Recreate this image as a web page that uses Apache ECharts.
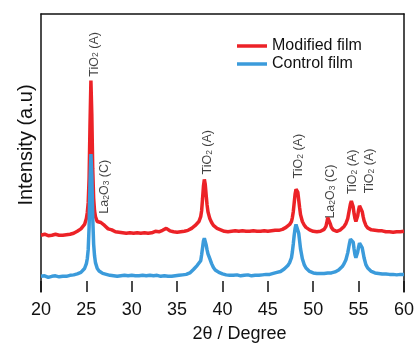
<!DOCTYPE html>
<html>
<head>
<meta charset="utf-8">
<script src="https://cdn.jsdelivr.net/npm/echarts@6/dist/echarts.min.js"></script>
<style>html,body{margin:0;padding:0;background:#fff}#c{width:417px;height:348px}</style>
</head>
<body>
<div id="c"></div>
<script>
const xTicks = [20, 25, 30, 35, 40, 45, 50, 55, 60];
const seriesNames = ['Modified film', 'Control film'];
const modifiedFilm = [[20.0,47],[20.2,46],[20.4,48],[20.6,47],[20.8,46.5],[21.0,48],[21.2,47],[21.4,46],[21.6,48],[21.8,47.5],[22.0,47],[22.2,48.5],[22.4,47],[22.6,48],[22.8,47.5],[23.0,49],[23.2,48],[23.4,49.5],[23.6,49],[23.8,50.5],[24.0,51],[24.2,52],[24.4,53.5],[24.6,55],[24.8,58],[25.0,64],[25.1,70],[25.2,80],[25.3,105],[25.4,160],[25.5,205],[25.6,170],[25.7,115],[25.8,85],[25.9,72],[26.0,66],[26.2,61],[26.4,59],[26.6,60],[26.8,60.5],[27.0,57],[27.2,55],[27.4,53.5],[27.6,52],[27.8,52.5],
[28.0,51],[28.2,50.5],[28.4,51.5],[28.6,50],[28.8,50.5],[29.0,49.5],[29.2,50.5],[29.4,49],[29.6,50],[29.8,49.5],[30.0,50],[30.2,49],[30.4,50.5],[30.6,49.5],[30.8,50],[31.0,49],[31.2,50.5],[31.4,49.5],[31.6,50],[31.8,49],[32.0,50.5],[32.2,49.5],[32.4,50],[32.6,51],[32.8,50],[33.0,50.5],[33.2,51],[33.4,52],[33.6,53.5],[33.8,54],[34.0,53],[34.2,51.5],[34.4,51],[34.6,50.5],[34.8,51],[35.0,50],[35.2,51],[35.4,50.5],[35.6,51.5],[35.8,51],[36.0,52],[36.2,52],[36.4,53],[36.6,54],[36.8,55.5],[37.0,57],[37.2,59],[37.4,61],[37.6,66],[37.7,72],[37.8,84],[37.9,97],[38.0,104],[38.1,99],[38.2,88],[38.3,78],[38.4,71],[38.6,64],[38.8,60],[39.0,57],[39.2,55.5],[39.4,54],[39.6,53],[39.8,52.5],[40.0,52],[40.2,51],[40.4,52],[40.6,50.5],[40.8,51.5],[41.0,51],[41.2,50],[41.4,51.5],[41.6,50.5],[41.8,51],[42.0,50],[42.2,51.5],[42.4,50.5],[42.6,51],[42.8,50],[43.0,51],[43.2,50.5],[43.4,51.5],[43.6,50],[43.8,51],[44.0,50.5],[44.2,51],[44.4,50],[44.6,51.5],[44.8,50.5],[45.0,51],[45.2,50.5],[45.4,51.5],[45.6,51],[45.8,52],[46.0,51.5],[46.2,52],[46.4,52.5],[46.6,53],[46.8,54],[47.0,55],[47.2,56.5],[47.4,58],[47.6,61],[47.7,65],[47.8,71],[47.9,80],[48.0,89],[48.1,94],[48.2,95],[48.3,91],[48.4,83],[48.5,75],[48.6,68],[48.8,61],[49.0,57.5],[49.2,55],[49.4,54],[49.6,52.5],[49.8,52],[50.0,51],[50.2,51.5],[50.4,50.5],[50.6,51.5],[50.8,51],[51.0,52],[51.2,53],[51.4,56],[51.5,60],[51.6,65],[51.7,67],[51.8,63],[51.9,58],[52.0,55],[52.2,52.5],[52.4,51.5],[52.6,51],[52.8,52],[53.0,52.5],[53.2,54],[53.4,56],[53.6,59],[53.8,64],[53.9,69],[54.0,74],[54.1,79],[54.2,82],[54.3,81],[54.4,76],[54.5,69],[54.6,64],[54.7,61],[54.8,62],[54.9,67],[55.0,73],[55.1,77],[55.2,78],[55.3,76],[55.4,71],[55.5,66],[55.6,62],[55.8,57],[56.0,54.5],[56.2,53],[56.4,52.5],[56.6,51.5],[56.8,52],[57.0,51],[57.2,51.5],[57.4,50.5],[57.6,51.5],[57.8,51],[58.0,50.5],[58.2,51.5],[58.4,50.5],[58.6,51],[58.8,50],[59.0,51.5],[59.2,50.5],[59.4,51],[59.6,50.5],[59.8,51.5],[60.0,51]];
const controlFilm = [[20.0,5],[20.2,4.5],[20.4,5.5],[20.6,5],[20.8,4],[21.0,5.5],[21.2,5],[21.4,4.5],[21.6,5.5],[21.8,5],[22.0,4.5],[22.2,5.5],[22.4,5],[22.6,6],[22.8,5],[23.0,5.5],[23.2,6],[23.4,5.5],[23.6,6.5],[23.8,7],[24.0,7.5],[24.2,8],[24.4,9],[24.6,10.5],[24.8,13],[25.0,18],[25.1,23],[25.2,32],[25.3,55],[25.4,100],[25.5,130],[25.6,108],[25.7,65],[25.8,38],[25.9,26],[26.0,19],[26.2,13],[26.4,10.5],[26.6,9],[26.8,8],[27.0,7.5],[27.2,7],[27.4,6.5],[27.6,6],[27.8,6.5],[28.0,5.5],[28.2,6],[28.4,5],[28.6,6],[28.8,5.5],[29.0,5],[29.2,6],[29.4,5],[29.6,5.5],[29.8,5],[30.0,6],[30.2,5],[30.4,5.5],[30.6,4.5],[30.8,5.5],[31.0,5],[31.2,6],[31.4,5],[31.6,5.5],[31.8,5],[32.0,6],[32.2,5],[32.4,5.5],[32.6,5],[32.8,6],[33.0,5.5],[33.2,5],[33.4,6],[33.6,5.5],[33.8,6],[34.0,5],[34.2,5.5],[34.4,5],[34.6,6],[34.8,5.5],[35.0,5],[35.2,6],[35.4,5.5],[35.6,6.5],[35.8,6],[36.0,7],[36.2,7.5],[36.4,8.5],[36.6,10],[36.8,12],[37.0,14],[37.2,16],[37.4,17],[37.6,21],[37.7,27],[37.8,34],[37.9,41],[38.0,44],[38.1,42],[38.2,37],[38.3,32],[38.4,28],[38.6,23],[38.8,18],[39.0,14],[39.2,11.5],[39.4,10],[39.6,9],[39.8,8],[40.0,7.5],[40.2,7],[40.4,6.5],[40.6,7],[40.8,6],[41.0,6.5],[41.2,6],[41.4,5.5],[41.6,6.5],[41.8,6],[42.0,5.5],[42.2,6.5],[42.4,6],[42.6,5.5],[42.8,6.5],[43.0,6],[43.2,5.5],[43.4,6.5],[43.6,6],[43.8,6.5],[44.0,6],[44.2,7],[44.4,6.5],[44.6,7],[44.8,7],[45.0,7.5],[45.2,7],[45.4,8],[45.6,8],[45.8,8.5],[46.0,9],[46.2,9.5],[46.4,10],[46.6,11],[46.8,12.5],[47.0,14],[47.2,16],[47.4,19],[47.6,24],[47.7,30],[47.8,38],[47.9,47],[48.0,54],[48.1,58],[48.2,59],[48.3,56],[48.4,49],[48.5,41],[48.6,33],[48.8,23],[49.0,17],[49.2,13.5],[49.4,11.5],[49.6,10],[49.8,9],[50.0,8.5],[50.2,8],[50.4,8],[50.6,7.5],[50.8,8],[51.0,7.5],[51.2,8],[51.4,8],[51.6,8.5],[51.8,8],[52.0,8.5],[52.2,9],[52.4,9.5],[52.6,10.5],[52.8,11.5],[53.0,13],[53.2,15],[53.4,18],[53.6,22],[53.8,29],[53.9,34],[54.0,39],[54.1,43],[54.2,45],[54.3,44],[54.4,40],[54.5,33],[54.6,27],[54.7,24],[54.8,25],[54.9,30],[55.0,35],[55.1,39],[55.2,40],[55.3,38],[55.4,34],[55.5,29],[55.6,24],[55.8,17],[56.0,13.5],[56.2,11.5],[56.4,10],[56.6,9],[56.8,8.5],[57.0,8],[57.2,8],[57.4,7.5],[57.6,7.5],[57.8,7],[58.0,7.5],[58.2,7],[58.4,7],[58.6,6.5],[58.8,7],[59.0,7],[59.2,6.5],[59.4,7],[59.6,7],[59.8,6.5],[60.0,7]];
const annAngle = [25.85, 27.05, 38.4, 48.4, 51.9, 54.35, 56.2];
const annHeight = [209, 69, 109, 105, 64, 89, 90];
const annLabel = ['TiO2 (A)', 'La2O3 (C)', 'TiO2 (A)', 'TiO2 (A)', 'La2O3 (C)', 'TiO2 (A)', 'TiO2 (A)'];

const FONT = '"Liberation Sans", Arial, sans-serif';
const RED = '#ec2227', BLUE = '#3b9bdb';
const annData = annAngle.map((a, i) => [a, annHeight[i], annLabel[i]]);
function richLabel(t) { return '{n|' + t.replace(/(\d)/g, '}{s|$1}{n|') + '}'; }

const chart = echarts.init(document.getElementById('c'), null, {renderer: 'canvas'});
chart.setOption({
  animation: false,
  backgroundColor: '#fff',
  grid: {left: 41, right: 12, top: 14, bottom: 50},
  legend: {
    data: seriesNames, orient: 'vertical', left: 232, top: 33, icon: 'rect',
    itemWidth: 30, itemHeight: 3.5, itemGap: 2,
    textStyle: {fontFamily: FONT, fontSize: 16, color: '#111', lineHeight: 16}
  },
  xAxis: [{
    type: 'value', min: 20, max: 60, interval: 5, position: 'bottom',
    name: '2θ / Degree', nameLocation: 'middle', nameGap: 33,
    nameTextStyle: {fontFamily: FONT, fontSize: 18, color: '#111', padding: [0, 0, 0, 34]},
    axisLine: {show: false, onZero: false},
    axisTick: {show: true, inside: true, length: 11, lineStyle: {color: '#111', width: 1.5}},
    axisLabel: {fontFamily: FONT, fontSize: 18, color: '#111', margin: 9,
      formatter: v => xTicks.includes(v) ? String(v) : ''},
    splitLine: {show: false}
  }, {
    type: 'value', min: 20, max: 60, position: 'top',
    axisLine: {show: true, onZero: false, lineStyle: {color: '#111', width: 1.5}},
    axisTick: {show: false}, axisLabel: {show: false}, splitLine: {show: false}
  }],
  yAxis: [{
    type: 'value', min: -11, max: 273, position: 'left',
    name: 'Intensity (a.u)', nameLocation: 'middle', nameGap: 5,
    nameTextStyle: {fontFamily: FONT, fontSize: 20, color: '#111', padding: [0, 0, 0, 16]},
    axisLine: {show: true, onZero: false, lineStyle: {color: '#111', width: 1.5}},
    axisTick: {show: false}, axisLabel: {show: false}, splitLine: {show: false}
  }, {
    type: 'value', min: -11, max: 273, position: 'right',
    axisLine: {show: true, onZero: false, lineStyle: {color: '#111', width: 1.5}},
    axisTick: {show: false}, axisLabel: {show: false}, splitLine: {show: false}
  }],
  series: [{
    name: seriesNames[0], type: 'line', data: modifiedFilm, showSymbol: false,
    lineStyle: {color: RED, width: 3.5}, itemStyle: {color: RED}
  }, {
    name: seriesNames[1], type: 'line', data: controlFilm, showSymbol: false,
    lineStyle: {color: BLUE, width: 3.5}, itemStyle: {color: BLUE}
  }, {
    name: 'labels', type: 'scatter', data: annData, symbolSize: 0, silent: true,
    label: {
      show: true, position: 'inside', rotate: 90, align: 'left', verticalAlign: 'middle',
      formatter: p => richLabel(p.data[2]),
      rich: {
        n: {fontFamily: FONT, fontSize: 12.5, color: '#111', lineHeight: 13, verticalAlign: 'top'},
        s: {fontFamily: FONT, fontSize: 8.5, color: '#111', lineHeight: 9, verticalAlign: 'bottom', padding: [5, 0, 0, 0]}
      }
    }
  }]
});
</script>
</body>
</html>
